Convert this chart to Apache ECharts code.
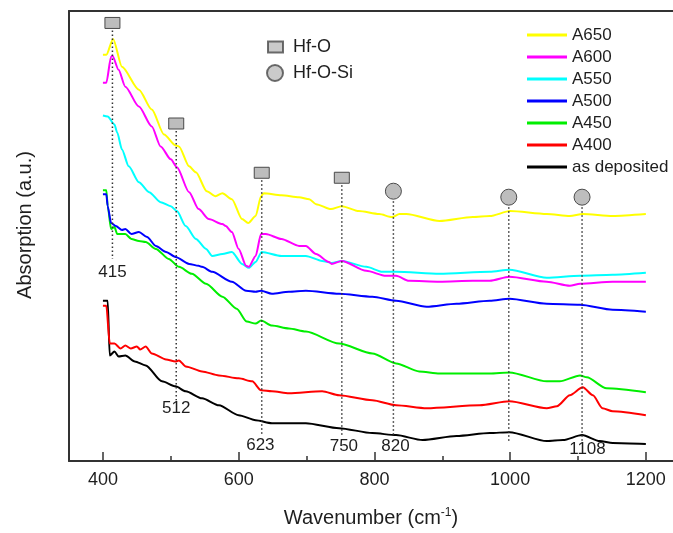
<!DOCTYPE html>
<html>
<head>
<meta charset="utf-8">
<script src="https://cdn.jsdelivr.net/npm/echarts@6/dist/echarts.min.js"></script>
<style>
  html, body { margin: 0; padding: 0; background: #fff; }
  #chart { width: 673px; height: 533px; }
</style>
</head>
<body>
<div id="chart"></div>
<script>
// tick labels on the wavenumber axis
var majorTicks = [400, 600, 800, 1000, 1200];
var minorTicks = [500, 700, 900, 1100];

// spectra, [wavenumber, absorption a.u.]
var a650 = [[400,4.15],[405,4.15],[415,4.31],[428,4.03],[453,3.80],[472,3.60],[490,3.35],[507,3.24],[512,3.23],[527,3.03],[537,2.97],[553,2.78],[566,2.73],[576,2.76],[590,2.70],[605,2.50],[614,2.46],[625,2.53],[633,2.73],[637,2.76],[663,2.74],[689,2.72],[704,2.70],[714,2.65],[736,2.60],[752,2.63],[777,2.58],[807,2.55],[826,2.52],[837,2.55],[847,2.55],[896,2.48],[945,2.52],[970,2.53],[1000,2.58],[1054,2.55],[1088,2.53],[1107,2.55],[1151,2.53],[1200,2.55]];
var a600 = [[400,3.87],[405,3.87],[412,4.13],[414,4.14],[423,4.00],[433,3.83],[453,3.63],[472,3.43],[485,3.23],[500,3.10],[509,3.02],[527,2.77],[541,2.60],[556,2.50],[576,2.45],[581,2.43],[590,2.37],[600,2.20],[611,2.03],[615,2.02],[625,2.13],[633,2.35],[640,2.35],[663,2.30],[689,2.23],[699,2.23],[714,2.15],[733,2.07],[737,2.05],[752,2.08],[788,1.98],[817,1.93],[832,1.93],[851,1.88],[896,1.87],[945,1.88],[970,1.88],[999,1.92],[1054,1.87],[1088,1.83],[1103,1.85],[1151,1.87],[1200,1.87]];
var a550 = [[400,3.54],[407,3.53],[417,3.45],[421,3.37],[428,3.20],[438,3.03],[453,2.87],[468,2.77],[485,2.67],[500,2.63],[509,2.58],[522,2.43],[537,2.30],[552,2.20],[561,2.13],[576,2.15],[590,2.17],[605,2.05],[615,2.01],[625,2.07],[634,2.17],[663,2.13],[699,2.13],[723,2.08],[737,2.06],[752,2.08],[788,2.02],[812,1.97],[832,1.97],[896,1.95],[970,1.97],[999,1.99],[1054,1.91],[1103,1.93],[1151,1.94],[1200,1.96]];
var a500 = [[400,2.75],[405,2.75],[407,2.63],[412,2.46],[419,2.43],[428,2.39],[433,2.40],[442,2.35],[453,2.37],[465,2.32],[478,2.23],[493,2.17],[507,2.12],[527,2.05],[541,2.03],[546,2.02],[561,1.97],[590,1.87],[611,1.78],[625,1.77],[633,1.78],[649,1.75],[674,1.77],[699,1.78],[748,1.75],[797,1.72],[832,1.68],[877,1.62],[921,1.65],[970,1.68],[999,1.70],[1054,1.65],[1103,1.64],[1151,1.59],[1200,1.57]];
var a450 = [[400,2.79],[405,2.79],[407,2.63],[412,2.40],[417,2.42],[421,2.35],[433,2.35],[442,2.30],[453,2.28],[463,2.27],[478,2.20],[497,2.10],[512,2.02],[531,1.95],[552,1.85],[576,1.72],[597,1.60],[612,1.47],[625,1.45],[633,1.48],[649,1.43],[674,1.40],[699,1.37],[748,1.25],[797,1.15],[832,1.05],[866,0.97],[896,0.95],[970,0.95],[999,0.96],[1054,0.87],[1073,0.87],[1103,0.93],[1113,0.91],[1142,0.80],[1200,0.76]];
var a400 = [[400,1.63],[405,1.63],[410,1.25],[417,1.25],[426,1.20],[433,1.23],[441,1.20],[450,1.22],[455,1.19],[463,1.22],[472,1.15],[493,1.09],[507,1.07],[512,1.08],[522,1.02],[546,0.97],[571,0.93],[600,0.90],[620,0.87],[633,0.78],[649,0.77],[674,0.75],[723,0.77],[748,0.73],[797,0.68],[832,0.63],[877,0.60],[955,0.63],[999,0.67],[1054,0.60],[1069,0.62],[1088,0.73],[1107,0.81],[1122,0.73],[1136,0.60],[1151,0.57],[1200,0.53]];
var asDeposited = [[400,1.68],[407,1.68],[410,1.13],[417,1.17],[423,1.12],[433,1.13],[447,1.07],[463,1.03],[487,0.87],[507,0.82],[522,0.77],[546,0.70],[571,0.63],[600,0.53],[625,0.48],[649,0.45],[699,0.45],[748,0.40],[797,0.35],[832,0.33],[871,0.28],[921,0.32],[970,0.35],[999,0.36],[1054,0.27],[1078,0.28],[1106,0.33],[1132,0.27],[1151,0.25],[1200,0.24]];

// band assignments
var peakWn = [414, 508, 634, 752, 828, 998, 1106];
var peakKind = ['Hf-O', 'Hf-O', 'Hf-O', 'Hf-O', 'Hf-O-Si', 'Hf-O-Si', 'Hf-O-Si'];
var peakTop = [4.47, 3.46, 2.965, 2.915, 2.78, 2.72, 2.72];
var peakBottom = [2.10, 0.68, 0.33, 0.33, 0.33, 0.27, 0.27];
var peakLabels = ['415', '512', '623', '750', '820', '', '1108'];
var labelWn = [414, 508, 632, 755, 831, 998, 1114];
var labelY = [1.97, 0.60, 0.23, 0.22, 0.22, 0.22, 0.19];

var FONT = 'Liberation Sans, Arial, Helvetica, sans-serif';
var TXT = '#1e1e1e';

var chart = echarts.init(document.getElementById('chart'));

function spectrum(name, data, color) {
    return {
        name: name,
        type: 'line',
        data: data,
        color: color,
        showSymbol: false,
        smooth: 0.25,
        smoothMonotone: 'x',
        lineStyle: { width: 2, color: color },
        z: 3
    };
}

var option = {
    animation: false,
    textStyle: { fontFamily: FONT },
    grid: { left: 69, right: 0, top: 11, bottom: 70 },
    legend: [{
        data: ['A650', 'A600', 'A550', 'A500', 'A450', 'A400', 'as deposited'],
        orient: 'vertical',
        left: 527, top: 25,
        padding: 0,
        icon: 'rect',
        itemWidth: 40, itemHeight: 3,
        itemGap: 2,
        selectedMode: false,
        textStyle: { fontSize: 17, color: TXT, lineHeight: 20, fontFamily: FONT }
    }, {
        data: ['Hf-O'],
        left: 267, top: 37,
        padding: 0,
        icon: 'rect',
        itemWidth: 15, itemHeight: 11,
        selectedMode: false,
        textStyle: { fontSize: 18, color: TXT, lineHeight: 20, padding: [0, 0, 0, 5], fontFamily: FONT }
    }, {
        data: ['Hf-O-Si'],
        left: 266, top: 63,
        padding: 0,
        icon: 'circle',
        itemWidth: 16, itemHeight: 16,
        selectedMode: false,
        textStyle: { fontSize: 18, color: TXT, lineHeight: 20, padding: [0, 0, 0, 5], fontFamily: FONT }
    }],
    xAxis: [{
        type: 'value',
        min: 350, max: 1240,
        name: 'Wavenumber (cm{sup|-1})',
        nameLocation: 'middle',
        nameGap: 46,
        nameTextStyle: {
            fontSize: 20, color: TXT, fontFamily: FONT,
            rich: { sup: { fontSize: 12, color: TXT, verticalAlign: 'top', padding: [0, 0, 10, 0] } }
        },
        axisLine: { show: true, lineStyle: { color: '#333', width: 2 } },
        axisTick: { show: true, inside: true, length: 9, lineStyle: { color: '#333', width: 1.5 }, customValues: majorTicks },
        axisLabel: {
            fontSize: 18, color: TXT, margin: 10, customValues: majorTicks, fontFamily: FONT,
            formatter: function (v) { return String(v); }
        },
        splitLine: { show: false }
    }, {
        type: 'value',
        min: 350, max: 1240,
        position: 'bottom',
        axisLine: { show: false },
        axisTick: { show: true, inside: true, length: 5, lineStyle: { color: '#333', width: 1.5 }, customValues: minorTicks },
        axisLabel: { show: false },
        splitLine: { show: false }
    }, {
        type: 'value',
        min: 350, max: 1240,
        position: 'top',
        axisLine: { show: true, lineStyle: { color: '#333', width: 2 } },
        axisTick: { show: false },
        axisLabel: { show: false },
        splitLine: { show: false }
    }],
    yAxis: {
        type: 'value',
        min: 0.07, max: 4.59,
        name: 'Absorption (a.u.)',
        nameLocation: 'middle',
        nameGap: 34,
        nameTextStyle: { fontSize: 20, color: TXT, fontFamily: FONT, padding: [0, 0, 0, 22] },
        axisLine: { show: true, lineStyle: { color: '#333', width: 2 } },
        axisTick: { show: false },
        axisLabel: { show: false },
        splitLine: { show: false }
    },
    series: [
        spectrum('as deposited', asDeposited, '#000000'),
        spectrum('A400', a400, '#ff0000'),
        spectrum('A450', a450, '#00ee00'),
        spectrum('A500', a500, '#0000ff'),
        spectrum('A550', a550, '#00ffff'),
        spectrum('A600', a600, '#ff00ff'),
        spectrum('A650', a650, '#ffff00'),
        {
            name: 'Hf-O', type: 'scatter', data: [], symbol: 'rect',
            itemStyle: { color: '#bdbdbd', borderColor: '#4a4a4a', borderWidth: 1 }
        },
        {
            name: 'Hf-O-Si', type: 'scatter', data: [], symbol: 'circle',
            itemStyle: { color: '#bdbdbd', borderColor: '#4a4a4a', borderWidth: 1 }
        },
        {
            name: 'peaks',
            type: 'custom',
            clip: false,
            z: 5,
            silent: true,
            data: peakWn.map(function (w, i) { return [w, peakTop[i], peakBottom[i], i]; }),
            renderItem: function (params, api) {
                var i = api.value(3);
                var p = api.coord([api.value(0), api.value(1)]);
                var b = api.coord([api.value(0), api.value(2)]);
                var isRect = peakKind[i] === 'Hf-O';
                var half = isRect ? 5.5 : 8;
                var children = [{
                    type: 'line',
                    shape: { x1: p[0], y1: p[1] + half + 2, x2: p[0], y2: b[1] },
                    style: { stroke: '#333', lineWidth: 1.5, lineDash: [1.5, 2.5] }
                }];
                if (isRect) {
                    children.push({
                        type: 'rect',
                        shape: { x: p[0] - 7.5, y: p[1] - 5.5, width: 15, height: 11 },
                        style: { fill: '#bdbdbd', stroke: '#4a4a4a', lineWidth: 1 }
                    });
                } else {
                    children.push({
                        type: 'circle',
                        shape: { cx: p[0], cy: p[1], r: 8 },
                        style: { fill: '#bdbdbd', stroke: '#4a4a4a', lineWidth: 1 }
                    });
                }
                if (peakLabels[i]) {
                    var l = api.coord([labelWn[i], labelY[i]]);
                    children.push({
                        type: 'text',
                        style: {
                            text: peakLabels[i], x: l[0], y: l[1],
                            fill: TXT, fontSize: 17, fontFamily: FONT,
                            align: 'center', verticalAlign: 'middle'
                        }
                    });
                }
                return { type: 'group', children: children };
            }
        }
    ]
};

chart.setOption(option);
</script>
</body>
</html>
